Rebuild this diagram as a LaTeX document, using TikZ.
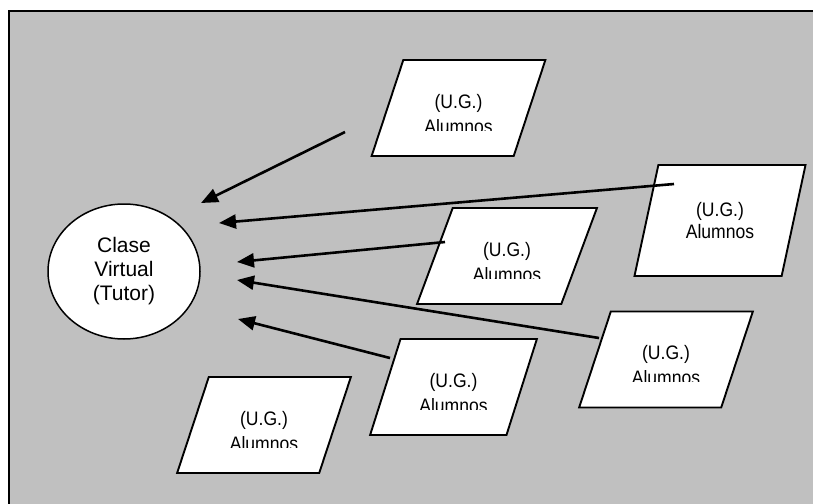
\documentclass[tikz,border=0pt]{standalone}
\usepackage{fontspec}
\setmainfont{Liberation Sans}
\newfontfamily\ugfont[FakeStretch=0.9]{Liberation Sans}
\usepackage{trimclip}
\usetikzlibrary{positioning,arrows.meta,shapes.geometric}

\definecolor{fondo}{RGB}{192,192,192}
\newcommand{\ugcut}{\raisebox{0pt}[22pt]{(U.G.)}\\\clipbox{0pt 3.5pt 0pt 0pt}{Alumnos}}

\begin{document}
\begin{tikzpicture}[x=1pt,y=-1pt,>={Triangle[length=17pt,width=14pt]}]
  \tikzstyle{grupo}=[draw,fill=white,line width=1.9pt,trapezium,
    trapezium left angle=66,trapezium right angle=114,trapezium stretches=true,
    minimum width=174pt,minimum height=96pt,inner sep=0pt,align=center,
    font=\ugfont\fontsize{19.5}{22}\selectfont]
  \tikzstyle{tutor}=[draw,fill=white,line width=1.5pt,ellipse,
    minimum width=152pt,minimum height=135pt,inner sep=0pt,align=center,
    font=\fontsize{21}{24}\selectfont]
  \tikzstyle{flecha}=[->,line width=2.6pt]

  \useasboundingbox (0,0) rectangle (813,503);
  \draw[line width=2pt,fill=fondo] (9,11) rectangle (830,520);

  \node[tutor] (clase) at (124,271.5) {Clase\\Virtual\\(Tutor)};

  \node[grupo]                  (g1) at (458.5,108) {\ugcut};
  \node[grupo,minimum width=172pt,minimum height=111pt,
        trapezium left angle=70,trapezium right angle=110]
                                (g2) at (720,220.5) {(U.G.)\\Alumnos};
  \node[grupo,minimum width=180pt,
        trapezium left angle=63,trapezium right angle=117]
                                (g3) at (507,256)   {\ugcut};
  \node[grupo]                  (g4) at (666,359.5) {\ugcut};
  \node[grupo,minimum width=167pt] (g5) at (453.5,387) {\ugcut};
  \node[grupo]                  (g6) at (264,425)   {\ugcut};

  % tails near the groups, heads stop short of the tutor
  \coordinate (t1) at (345,132);  \coordinate (h1) at (201,203);
  \coordinate (t2) at (674,184);  \coordinate (h2) at (219,223);
  \coordinate (t3) at (445,242);  \coordinate (h3) at (237,262);
  \coordinate (t4) at (599,338);  \coordinate (h4) at (237,280);
  \coordinate (t5) at (390,358);  \coordinate (h5) at (238,319);

  \path[flecha]
  (t1) edge (h1)
  (t2) edge (h2)
  (t3) edge (h3)
  (t4) edge (h4)
  (t5) edge (h5);
\end{tikzpicture}
\end{document}
